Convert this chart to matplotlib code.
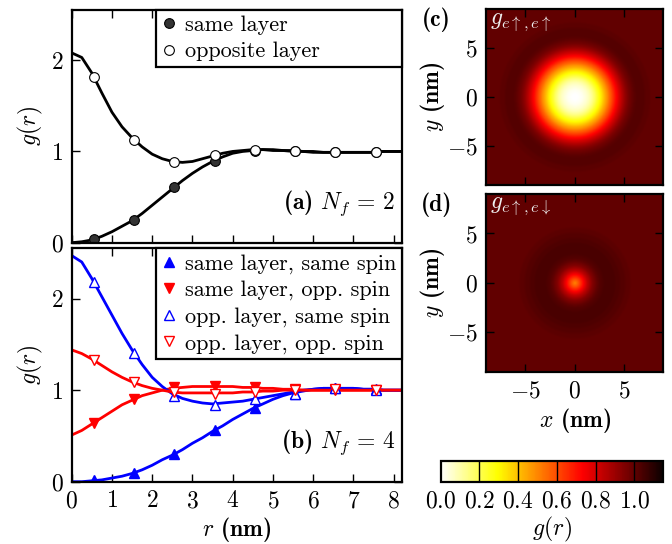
import numpy as np
import matplotlib
matplotlib.use("Agg")
import matplotlib.pyplot as plt

plt.rcParams['font.family'] = 'serif'
plt.rcParams['font.serif'] = ['cmr10']
plt.rcParams['mathtext.fontset'] = 'cm'
plt.rcParams['axes.formatter.use_mathtext'] = True
plt.rcParams['font.size'] = 17

# curve samples (r in nm, every 0.25)
r_curve = np.linspace(0, 8.25, 34)

# panel (a), N_f = 2
g_same_2 = [0.00, 0.01, 0.03, 0.07, 0.12, 0.18, 0.24, 0.32, 0.41, 0.50, 0.59, 0.68,
            0.76, 0.83, 0.89, 0.94, 0.98, 1.00, 1.01, 1.02, 1.02, 1.01, 1.01, 1.00,
            1.00, 0.99, 0.99, 0.99, 0.99, 0.99, 0.99, 1.00, 1.00, 1.00]
g_opp_2 = [2.08, 2.03, 1.86, 1.64, 1.43, 1.27, 1.15, 1.05, 0.97, 0.92, 0.89, 0.88,
           0.89, 0.92, 0.95, 0.98, 1.00, 1.01, 1.02, 1.02, 1.01, 1.01, 1.00, 1.00,
           0.99, 0.99, 0.99, 0.99, 0.99, 0.99, 0.99, 1.00, 1.00, 1.00]

# panel (b), N_f = 4
g_ss_4 = [0.00, 0.00, 0.01, 0.02, 0.04, 0.06, 0.09, 0.13, 0.18, 0.24, 0.29, 0.35,
          0.42, 0.48, 0.55, 0.61, 0.68, 0.74, 0.80, 0.85, 0.90, 0.94, 0.97, 0.99,
          1.01, 1.02, 1.02, 1.02, 1.02, 1.01, 1.01, 1.00, 1.00, 1.00]
g_so_4 = [0.51, 0.56, 0.63, 0.70, 0.77, 0.84, 0.89, 0.94, 0.97, 1.00, 1.02, 1.03,
          1.04, 1.04, 1.04, 1.04, 1.04, 1.03, 1.03, 1.02, 1.02, 1.01, 1.01, 1.00,
          1.00, 1.00, 1.00, 1.00, 1.00, 1.00, 1.00, 1.00, 1.00, 1.00]
g_os_4 = [2.47, 2.40, 2.22, 2.02, 1.82, 1.62, 1.44, 1.28, 1.14, 1.04, 0.96, 0.91,
          0.88, 0.86, 0.85, 0.86, 0.87, 0.88, 0.90, 0.92, 0.94, 0.96, 0.98, 1.00,
          1.01, 1.02, 1.02, 1.02, 1.02, 1.01, 1.01, 1.00, 1.00, 1.00]
g_oo_4 = [1.44, 1.40, 1.34, 1.27, 1.20, 1.14, 1.09, 1.05, 1.02, 1.00, 0.98, 0.97,
          0.97, 0.97, 0.97, 0.97, 0.97, 0.98, 0.98, 0.99, 0.99, 1.00, 1.00, 1.00,
          1.00, 1.00, 1.00, 1.00, 1.00, 1.00, 1.00, 1.00, 1.00, 1.00]

# markers (bin centres)
r_pts = [0.55, 1.55, 2.55, 3.55, 4.55, 5.55, 6.55, 7.55]
p_same_2 = [0.04, 0.25, 0.61, 0.90, 1.01, 1.00, 0.99, 0.99]
p_opp_2 = [1.82, 1.13, 0.88, 0.96, 1.02, 1.00, 0.99, 0.99]
p_ss_4 = [0.02, 0.10, 0.30, 0.56, 0.80, 0.96, 1.02, 1.01]
p_so_4 = [0.64, 0.90, 1.03, 1.05, 1.04, 1.01, 1.00, 1.00]
p_os_4 = [2.18, 1.41, 0.94, 0.84, 0.90, 0.96, 1.02, 1.00]
p_oo_4 = [1.33, 1.09, 0.98, 0.96, 0.98, 1.00, 1.01, 1.00]

cbar_ticks = [0.0, 0.2, 0.4, 0.6, 0.8, 1.0]

BOLD = 'cmb10'

fig = plt.figure(figsize=(6.72, 5.44), dpi=100)
ax_a = fig.add_axes([0.1067, 0.5539, 0.4911, 0.4277])
ax_b = fig.add_axes([0.1067, 0.1145, 0.4911, 0.4291])
ax_c = fig.add_axes([0.7232, 0.6599, 0.2639, 0.3230])
ax_d = fig.add_axes([0.7232, 0.3167, 0.2639, 0.3267])
cax = fig.add_axes([0.6557, 0.1145, 0.3314, 0.0386])


def style_axes(ax):
    for sp in ax.spines.values():
        sp.set_linewidth(1.6)
    ax.tick_params(direction='in', top=True, right=True, length=6, width=1,
                   labelsize=17, pad=6)


def legend_box(ax):
    leg = ax.legend(loc='upper left', bbox_to_anchor=(0.2545, 0, 0.7455, 1.0),
                    mode='expand', borderaxespad=0, fancybox=False,
                    framealpha=1, edgecolor='black', numpoints=1,
                    handlelength=0.7, handletextpad=0.35, borderpad=0.25,
                    labelspacing=0.3, fontsize=16)
    leg.get_frame().set_linewidth(1.6)


# (a)
ax_a.plot(r_curve, g_same_2, color='black', lw=2)
ax_a.plot(r_curve, g_opp_2, color='black', lw=2)
ax_a.plot(r_pts, p_same_2, 'o', ms=7, mfc='#333333', mec='black', mew=0.8,
          label='same layer')
ax_a.plot(r_pts, p_opp_2, 'o', ms=7, mfc='white', mec='black', mew=0.8,
          label='opposite layer')
ax_a.set_xlim(0, 8.2)
ax_a.set_ylim(0, 2.55)
ax_a.set_xticks(range(0, 9))
ax_a.set_xticklabels([])
ax_a.set_yticks([0, 1, 2])
ax_a.set_ylabel('$g(r)$', fontsize=17)
ax_a.text(0.98, 0.17, '(a) $N_f\\,=\\,2$', transform=ax_a.transAxes,
          ha='right', va='center', fontsize=17, fontfamily=BOLD)
style_axes(ax_a)
legend_box(ax_a)

# (b)
ax_b.plot(r_curve, g_ss_4, color='blue', lw=2)
ax_b.plot(r_curve, g_so_4, color='red', lw=2)
ax_b.plot(r_curve, g_os_4, color='blue', lw=2)
ax_b.plot(r_curve, g_oo_4, color='red', lw=2)
ax_b.plot(r_pts, p_ss_4, '^', ms=7.5, mfc='blue', mec='blue', mew=1,
          label='same layer, same spin')
ax_b.plot(r_pts, p_so_4, 'v', ms=7.5, mfc='red', mec='red', mew=1,
          label='same layer, opp. spin')
ax_b.plot(r_pts, p_os_4, '^', ms=7.5, mfc='white', mec='blue', mew=1,
          label='opp. layer, same spin')
ax_b.plot(r_pts, p_oo_4, 'v', ms=7.5, mfc='white', mec='red', mew=1,
          label='opp. layer, opp. spin')
ax_b.set_xlim(0, 8.2)
ax_b.set_ylim(0, 2.55)
ax_b.set_xticks(range(0, 9))
ax_b.set_yticks([0, 1, 2])
ax_b.set_ylabel('$g(r)$', fontsize=17)
ax_b.set_xlabel('$r$ (nm)', fontsize=17, labelpad=2, fontfamily=BOLD)
ax_b.text(0.98, 0.17, '(b) $N_f\\,=\\,4$', transform=ax_b.transAxes,
          ha='right', va='center', fontsize=17, fontfamily=BOLD)
style_axes(ax_b)
legend_box(ax_b)

# (c), (d): radial profiles mapped onto the plane
xy = np.linspace(-9, 9, 300)
X, Y = np.meshgrid(xy, xy)
rho = np.hypot(X, Y)
img_c = np.interp(rho, r_curve, g_ss_4, right=1.0)
img_d = np.interp(rho, r_curve, g_so_4, right=1.0)

for ax, img, lab, name in [(ax_c, img_c, '(c)', '$g_{e\\uparrow,e\\uparrow}$'),
                           (ax_d, img_d, '(d)', '$g_{e\\uparrow,e\\downarrow}$')]:
    im = ax.imshow(img, cmap='hot_r', vmin=0, vmax=1.15, origin='lower',
                   extent=[-9, 9, -9, 9], aspect='auto', interpolation='bilinear')
    ax.set_xlim(-9, 9)
    ax.set_ylim(-9, 9)
    ax.set_xticks([-5, 0, 5])
    ax.set_yticks([-5, 0, 5])
    ax.set_ylabel('$y$ (nm)', fontsize=17, labelpad=0, fontfamily=BOLD)
    style_axes(ax)
    ax.text(0.02, 0.93, name, transform=ax.transAxes, color='#eeeeee',
            ha='left', va='center', fontsize=17)
    ax.text(-0.28, 0.94, lab, transform=ax.transAxes, ha='center',
            va='center', fontsize=17, fontfamily=BOLD)

ax_c.set_xticklabels([])
ax_d.set_xlabel('$x$ (nm)', fontsize=17, labelpad=3, fontfamily=BOLD)

cb = fig.colorbar(im, cax=cax, orientation='horizontal', ticks=cbar_ticks)
cb.outline.set_linewidth(1.6)
cax.tick_params(length=0, labelsize=17, pad=6)
for t in cbar_ticks[1:]:
    cax.axvline(t, color='black', lw=1)
cb.set_label('$g(r)$', fontsize=17, labelpad=2)

fig.savefig('out.png', dpi=100)
